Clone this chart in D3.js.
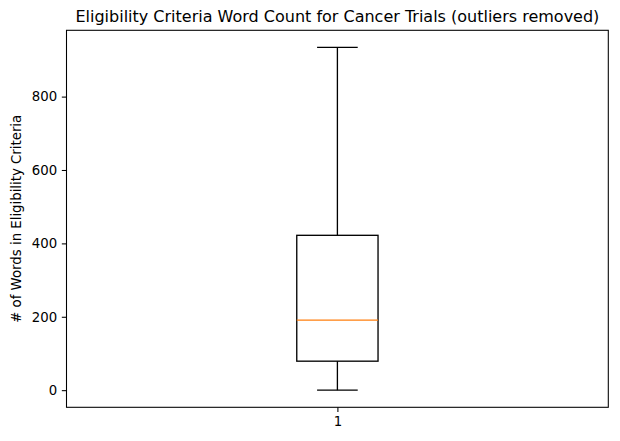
<!DOCTYPE html>
<html lang="en">
<head>
<meta charset="UTF-8">
<title>Eligibility Criteria Word Count</title>
<script src="https://d3js.org/d3.v7.min.js"></script>
<style>
  body { margin: 0; background: #fff; }
  text { font-family: "DejaVu Sans", sans-serif; fill: #000; }
</style>
</head>
<body>
<svg id="chart" width="620" height="441"></svg>
<script>
// box statistics (outliers removed)
const categories = ['1'];
const whiskerLow = [0];
const quartile1 = [79];
const medians = [191];
const quartile3 = [422];
const whiskerHigh = [934];
const yTicks = [0, 200, 400, 600, 800];

const margin = { top: 30.3, right: 11.7, bottom: 33.7, left: 66.5 };
const svgWidth = 620, svgHeight = 441;
const width = svgWidth - margin.left - margin.right;
const height = svgHeight - margin.top - margin.bottom;

const svg = d3.select('#chart');

// title
svg.append('text')
    .attr('x', margin.left + width / 2)
    .attr('y', margin.top - 8)
    .attr('text-anchor', 'middle')
    .style('font-size', '16px')
    .text('Eligibility Criteria Word Count for Cancer Trials (outliers removed)');

const g = svg.append('g')
    .attr('transform', `translate(${margin.left},${margin.top})`);

// matplotlib-like 5% padding on the y data range
const lo = d3.min(whiskerLow), hi = d3.max(whiskerHigh);
const pad = (hi - lo) * 0.05;

const xScale = d3.scaleLinear().domain([0.5, 1.5]).range([0, width]);
const yScale = d3.scaleLinear().domain([lo - pad, hi + pad]).range([height, 0]);

const boxW = xScale(0.15) - xScale(0);

const data = categories.map((c, i) => ({
    pos: i + 1, label: c,
    lo: whiskerLow[i], q1: quartile1[i], med: medians[i], q3: quartile3[i], hi: whiskerHigh[i]
}));

const boxes = g.selectAll('.box').data(data).enter().append('g').attr('class', 'box');

// whiskers
boxes.append('line')
    .attr('x1', d => xScale(d.pos)).attr('x2', d => xScale(d.pos))
    .attr('y1', d => yScale(d.q3)).attr('y2', d => yScale(d.hi))
    .attr('stroke', '#000').attr('stroke-width', 1.33);
boxes.append('line')
    .attr('x1', d => xScale(d.pos)).attr('x2', d => xScale(d.pos))
    .attr('y1', d => yScale(d.q1)).attr('y2', d => yScale(d.lo))
    .attr('stroke', '#000').attr('stroke-width', 1.33);

// caps
boxes.selectAll('.cap').data(d => [d.lo, d.hi].map(v => ({ pos: d.pos, v }))).enter()
    .append('line')
    .attr('x1', d => xScale(d.pos) - boxW / 4).attr('x2', d => xScale(d.pos) + boxW / 4)
    .attr('y1', d => yScale(d.v)).attr('y2', d => yScale(d.v))
    .attr('stroke', '#000').attr('stroke-width', 1.33);

// box
boxes.append('rect')
    .attr('x', d => xScale(d.pos) - boxW / 2)
    .attr('y', d => yScale(d.q3))
    .attr('width', boxW)
    .attr('height', d => yScale(d.q1) - yScale(d.q3))
    .attr('fill', 'none').attr('stroke', '#000').attr('stroke-width', 1.33);

// median
boxes.append('line')
    .attr('x1', d => xScale(d.pos) - boxW / 2).attr('x2', d => xScale(d.pos) + boxW / 2)
    .attr('y1', d => yScale(d.med)).attr('y2', d => yScale(d.med))
    .attr('stroke', '#ff7f0e').attr('stroke-width', 1.33);

// axes
const yAxis = d3.axisLeft(yScale).tickValues(yTicks).tickSize(4.67).tickPadding(4.67);
const xAxis = d3.axisBottom(xScale).tickValues(data.map(d => d.pos))
    .tickFormat((d, i) => categories[i]).tickSize(4.67).tickPadding(4.67);

const ya = g.append('g').call(yAxis);
const xa = g.append('g').attr('transform', `translate(0,${height})`).call(xAxis);
[ya, xa].forEach(a => {
    a.select('.domain').remove();
    a.selectAll('.tick line').attr('stroke', '#000').attr('stroke-width', 1.07);
    a.selectAll('.tick text').style('font-size', '13.3px').attr('fill', '#000');
});

// frame
g.append('rect')
    .attr('width', width).attr('height', height)
    .attr('fill', 'none').attr('stroke', '#000').attr('stroke-width', 1.07);

// y label
svg.append('text')
    .attr('transform', `translate(21,${margin.top + height / 2}) rotate(-90)`)
    .attr('text-anchor', 'middle')
    .style('font-size', '13.3px')
    .text('# of Words in Eligibility Criteria');
</script>
</body>
</html>
